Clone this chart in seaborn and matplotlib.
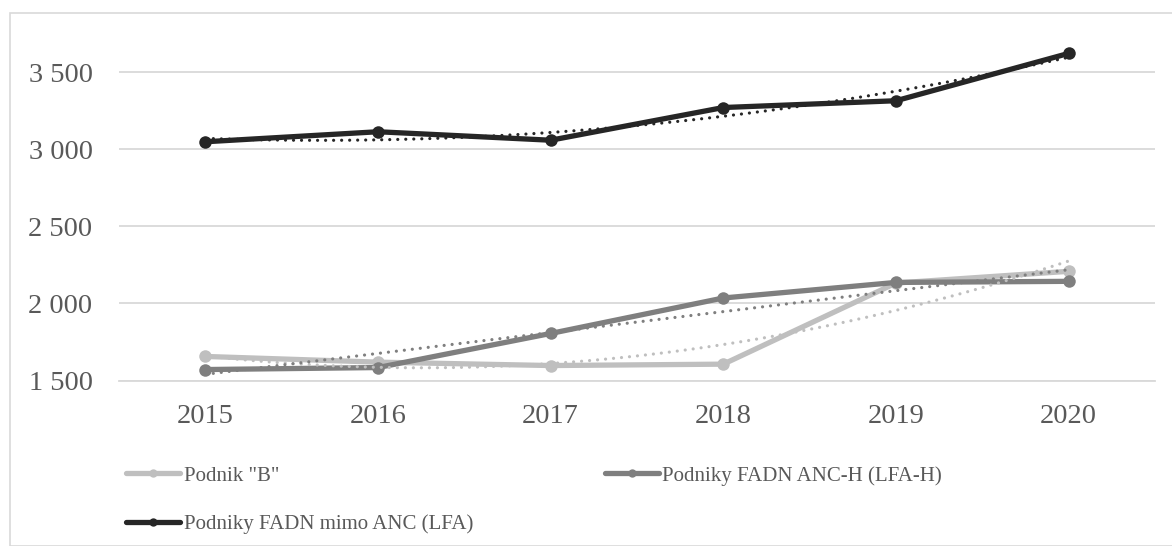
import numpy as np
import pandas as pd
import seaborn as sns
import matplotlib
matplotlib.use("Agg")
import matplotlib.pyplot as plt
from matplotlib.patches import Rectangle
from matplotlib.ticker import FuncFormatter
from matplotlib.lines import Line2D

years = [2015, 2016, 2017, 2018, 2019, 2020]
podnik_b = [1656, 1619, 1597, 1606, 2132, 2208]
anc_h = [1571, 1584, 1805, 2035, 2136, 2143]
mimo_anc = [3048, 3113, 3058, 3270, 3314, 3621]
series_names = ['Podnik "B"', 'Podniky FADN ANC-H (LFA-H)', 'Podniky FADN mimo ANC (LFA)']
colors = ['#BFBFBF', '#7F7F7F', '#262626']
trend_degree = [2, 1, 2]
y_ticks = [1500, 2000, 2500, 3000, 3500]

sns.set_theme(style="white")
plt.rcParams['font.family'] = ['Liberation Serif', 'DejaVu Serif']

W, H = 1172, 546
fig = plt.figure(figsize=(W / 100, H / 100), dpi=100)
fig.patches.append(Rectangle((10 / W, 0), 2, (H - 13) / H, transform=fig.transFigure,
                             fill=False, edgecolor='#D9D9D9', linewidth=1.2, zorder=0))

ax_left, ax_right = 119 / W, 1155 / W
ax_bottom = (H - 380.5) / H
ax_top = (H - 33.5) / H
ax = fig.add_axes([ax_left, ax_bottom, ax_right - ax_left, ax_top - ax_bottom])

values = [podnik_b, anc_h, mimo_anc]
df = pd.DataFrame({
    'rok': years * 3,
    'hodnota': podnik_b + anc_h + mimo_anc,
    'serie': [n for n in series_names for _ in years],
})
palette = dict(zip(series_names, colors))

sns.lineplot(data=df, x='rok', y='hodnota', hue='serie', palette=palette,
             marker='o', markersize=9, markeredgewidth=0, linewidth=3.8,
             ax=ax, legend=False, zorder=3)

# trendlines (polynomial / linear fits of each series, as in the source chart)
xs = np.linspace(years[0], years[-1], 100)
for name, vals, c, deg in zip(series_names, values, colors, trend_degree):
    coef = np.polyfit(years, vals, deg)
    tdf = pd.DataFrame({'rok': xs, 'hodnota': np.polyval(coef, xs)})
    sns.lineplot(data=tdf, x='rok', y='hodnota', color=c, linewidth=2.3,
                 linestyle=(0, (0.01, 2.5)), ax=ax, zorder=4)
for l in ax.lines[-3:]:
    l.set_dash_capstyle('round')

ax.set_xlim(2014.5, 2020.5)
ax.set_ylim(1500, 3750)
ax.set_yticks(y_ticks)
ax.set_xticks(years)
ax.yaxis.set_major_formatter(FuncFormatter(lambda v, p: f"{int(v):,}".replace(',', ' ')))
ax.grid(axis='y', color='#D9D9D9', linewidth=1.3)
ax.set_axisbelow(True)
for s in ['top', 'right', 'left']:
    ax.spines[s].set_visible(False)
ax.spines['bottom'].set_color('#D9D9D9')
ax.spines['bottom'].set_linewidth(1.3)
ax.tick_params(axis='both', length=0, labelsize=20.5, labelcolor='#595959')
ax.tick_params(axis='y', pad=19)
ax.tick_params(axis='x', pad=17)
ax.set_xlabel('')
ax.set_ylabel('')

handles = [Line2D([0], [0], color=c, linewidth=3.8, marker='o', markersize=6,
                  markeredgewidth=0) for c in colors]
order = [0, 2, 1]
fig.legend([handles[i] for i in order], [series_names[i] for i in order],
           loc='upper left', bbox_to_anchor=(126 / W, (H - 466) / H), ncol=2,
           frameon=False, fontsize=15, handlelength=2.6, handletextpad=0.18,
           columnspacing=6.3, labelspacing=1.38, borderpad=0, borderaxespad=0,
           labelcolor='#595959')

fig.savefig('out.png', dpi=100)
